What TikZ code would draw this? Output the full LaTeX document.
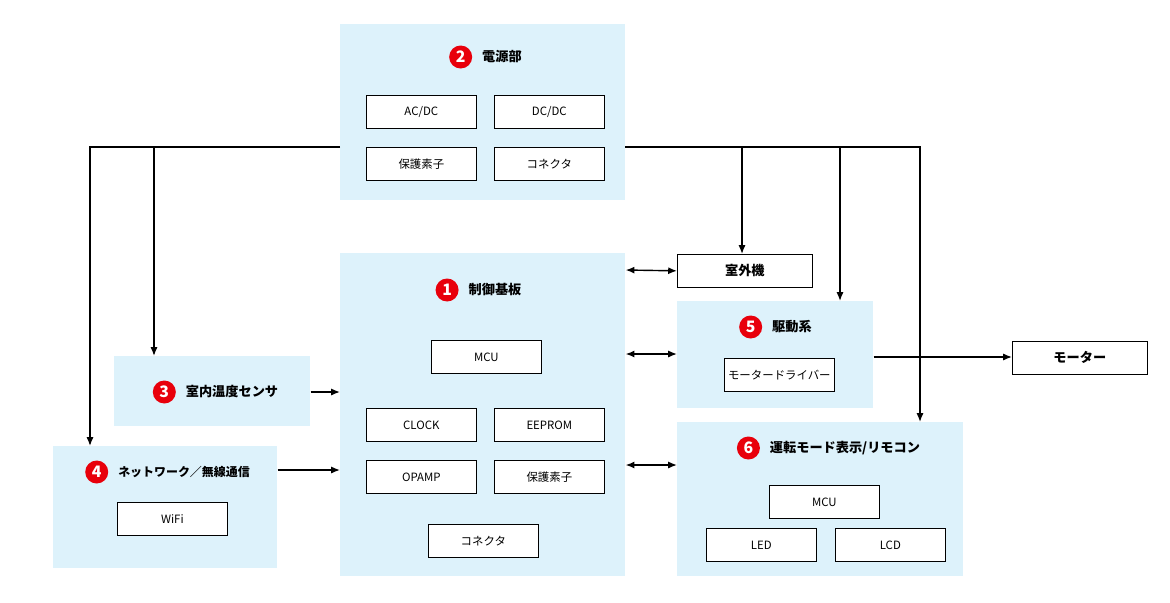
\documentclass[tikz,border=0pt]{standalone}
\usepackage{fontspec}
\setmainfont{Noto Sans CJK JP}
\usetikzlibrary{arrows.meta,positioning}
\definecolor{grp}{HTML}{DDF2FB}
\definecolor{numred}{HTML}{E8000B}
\begin{document}
\begin{tikzpicture}[x=0.02cm,y=-0.02cm,font=\fontsize{6.5}{8}\selectfont,
  grp/.style={fill=grp,draw=none,anchor=north west,inner sep=0pt},
  part/.style={draw,fill=white,thin,anchor=north west,inner sep=0pt,minimum width=2.2cm,minimum height=0.66cm},
  num/.style={circle,fill=numred,text=white,font=\fontsize{9}{9}\selectfont\bfseries,inner sep=0pt,minimum size=0.46cm},
  ttl/.style={font=\fontsize{7.5}{9}\selectfont\bfseries},
  arr/.style={-{Latex[length=5pt,width=4pt]},thick},
  biarr/.style={{Latex[length=5pt,width=4pt]}-{Latex[length=5pt,width=4pt]},thick}]
\useasboundingbox (0,0) rectangle (1170,602);
% groups
\node[grp,minimum width=5.7cm,minimum height=3.52cm] (power) at (340,24) {};
\node[grp,minimum width=5.7cm,minimum height=6.46cm] (ctrl) at (340,253) {};
\node[grp,minimum width=3.92cm,minimum height=2.14cm] (drive) at (677,301) {};
\node[grp,minimum width=5.72cm,minimum height=3.08cm] (disp) at (677,422) {};
\node[grp,minimum width=3.92cm,minimum height=1.4cm] (temp) at (114,356) {};
\node[grp,minimum width=4.48cm,minimum height=2.44cm] (net) at (53,446) {};
% titles
\node[ttl] (powert) at (502,57) {電源部};
\node[num,left=2pt of powert] {2};
\node[ttl] (ctrlt) at (495,290) {制御基板};
\node[num,left=2pt of ctrlt] {1};
\node[ttl] (drivet) at (792,327) {駆動系};
\node[num,left=2pt of drivet] {5};
\node[ttl] (dispt) at (845,448) {運転モード表示/リモコン};
\node[num,left=2pt of dispt] {6};
\node[ttl] (tempt) at (232,392) {室内温度センサ};
\node[num,left=2pt of tempt] {3};
\node[ttl,font=\fontsize{6.8}{8}\selectfont\bfseries] (nett) at (184,472) {ネットワーク／無線通信};
\node[num,left=2pt of nett] {4};
% parts
\node[part] (acdc) at (366,95) {AC/DC};
\node[part] (dcdc) at (494,95) {DC/DC};
\node[part] (prot1) at (366,147) {保護素子};
\node[part] (conn1) at (494,147) {コネクタ};
\node[part] (mcu1) at (431,340) {MCU};
\node[part] (clock) at (366,408) {CLOCK};
\node[part] (eeprom) at (494,408) {EEPROM};
\node[part] (opamp) at (366,460) {OPAMP};
\node[part] (prot2) at (494,460) {保護素子};
\node[part] (conn2) at (428,524) {コネクタ};
\node[part] (driver) at (724,358) {モータードライバー};
\node[part] (mcu2) at (769,485) {MCU};
\node[part] (led) at (706,528) {LED};
\node[part] (lcd) at (835,528) {LCD};
\node[part] (wifi) at (117,502) {WiFi};
\node[part,minimum width=2.7cm,font=\fontsize{7.5}{9}\selectfont\bfseries] (outdoor) at (677,254) {室外機};
\node[part,minimum width=2.7cm,font=\fontsize{7.5}{9}\selectfont\bfseries] (motor) at (1012,341) {モーター};
% power lines
\coordinate (pl) at (340,147);
\coordinate (pr) at (625,147);
\draw[arr] (pl) -| (net.north west -| 90,0);
\draw[arr] (154,147) -- (temp.north west -| 154,0);
\draw[arr] (pr) -| (disp.north west -| 920,0);
\draw[arr] (742,147) -- (outdoor.north west -| 742,0);
\draw[arr] (840,147) -- (drive.north west -| 840,0);
% links
\draw[biarr] (ctrl.north east |- 0,270) -- (outdoor.west);
\draw[biarr] (ctrl.north east |- 0,354) -- (drive.north west |- 0,354);
\draw[biarr] (ctrl.north east |- 0,465) -- (disp.north west |- 0,465);
\draw[arr] (temp.north east |- 0,392) -- (ctrl.north west |- 0,392);
\draw[arr] (net.north east |- 0,470) -- (ctrl.north west |- 0,470);
\draw[arr] (drive.north east |- 0,357) -- (motor.north west |- 0,357);
\end{tikzpicture}
\end{document}
